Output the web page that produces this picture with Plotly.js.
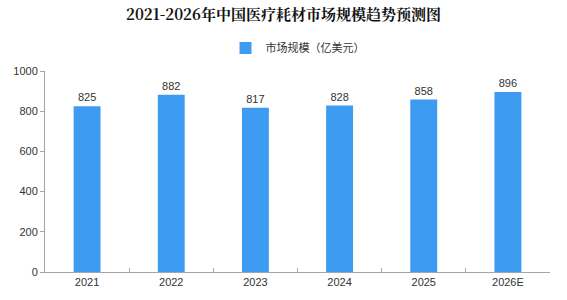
<!DOCTYPE html>
<html>
<head>
<meta charset="utf-8">
<script src="https://cdn.plot.ly/plotly-3.0.1.min.js"></script>
<style>html,body{margin:0;padding:0;background:#fff;}#chart{width:567px;height:300px;}</style>
</head>
<body>
<div id="chart"></div>
<script>
const categories = ["2021", "2022", "2023", "2024", "2025", "2026E"];
const values = [825, 882, 817, 828, 858, 896];
const seriesName = "市场规模（亿美元）";
const chartTitle = "2021-2026年中国医疗耗材市场规模趋势预测图";

const trace = {
  type: "bar",
  x: categories,
  y: values,
  name: seriesName,
  marker: {color: "#3d9cf2"},
  text: values.map(String),
  textposition: "outside",
  textfont: {family: "Liberation Sans, Arial, sans-serif", size: 11, color: "#333"},
  cliponaxis: false,
  showlegend: true
};

const layout = {
  width: 567, height: 300,
  margin: {l: 45, r: 17, t: 71, b: 28},
  paper_bgcolor: "#fff", plot_bgcolor: "#fff",
  bargap: 0.68,
  title: {
    text: "<b>" + chartTitle + "</b>",
    font: {family: "Noto Serif CJK SC, Noto Sans CJK SC, serif", size: 15, color: "#111"},
    x: 0.5, xanchor: "center", y: 0.95, yanchor: "middle"
  },
  legend: {
    orientation: "h", x: 0.5, xanchor: "center", y: 1.115, yanchor: "middle",
    font: {family: "Noto Sans CJK SC, sans-serif", size: 11, color: "#333"},
    itemwidth: 30
  },
  xaxis: {
    type: "category",
    showgrid: false, zeroline: false,
    showline: true, linecolor: "#a6a6a6", linewidth: 1,
    ticks: "inside", tickson: "boundaries", ticklen: 4, tickcolor: "#a6a6a6",
    tickfont: {family: "Liberation Sans, Arial, sans-serif", size: 11, color: "#333"}
  },
  yaxis: {
    range: [0, 1000], dtick: 200,
    showgrid: false, zeroline: false,
    showline: true, linecolor: "#a6a6a6", linewidth: 1,
    ticks: "outside", ticklen: 4, tickcolor: "#a6a6a6",
    tickfont: {family: "Liberation Sans, Arial, sans-serif", size: 11, color: "#333"}
  },
  font: {family: "Noto Sans CJK SC, sans-serif"}
};

Plotly.newPlot("chart", [trace], layout, {displayModeBar: false, staticPlot: true});
</script>
</body>
</html>
